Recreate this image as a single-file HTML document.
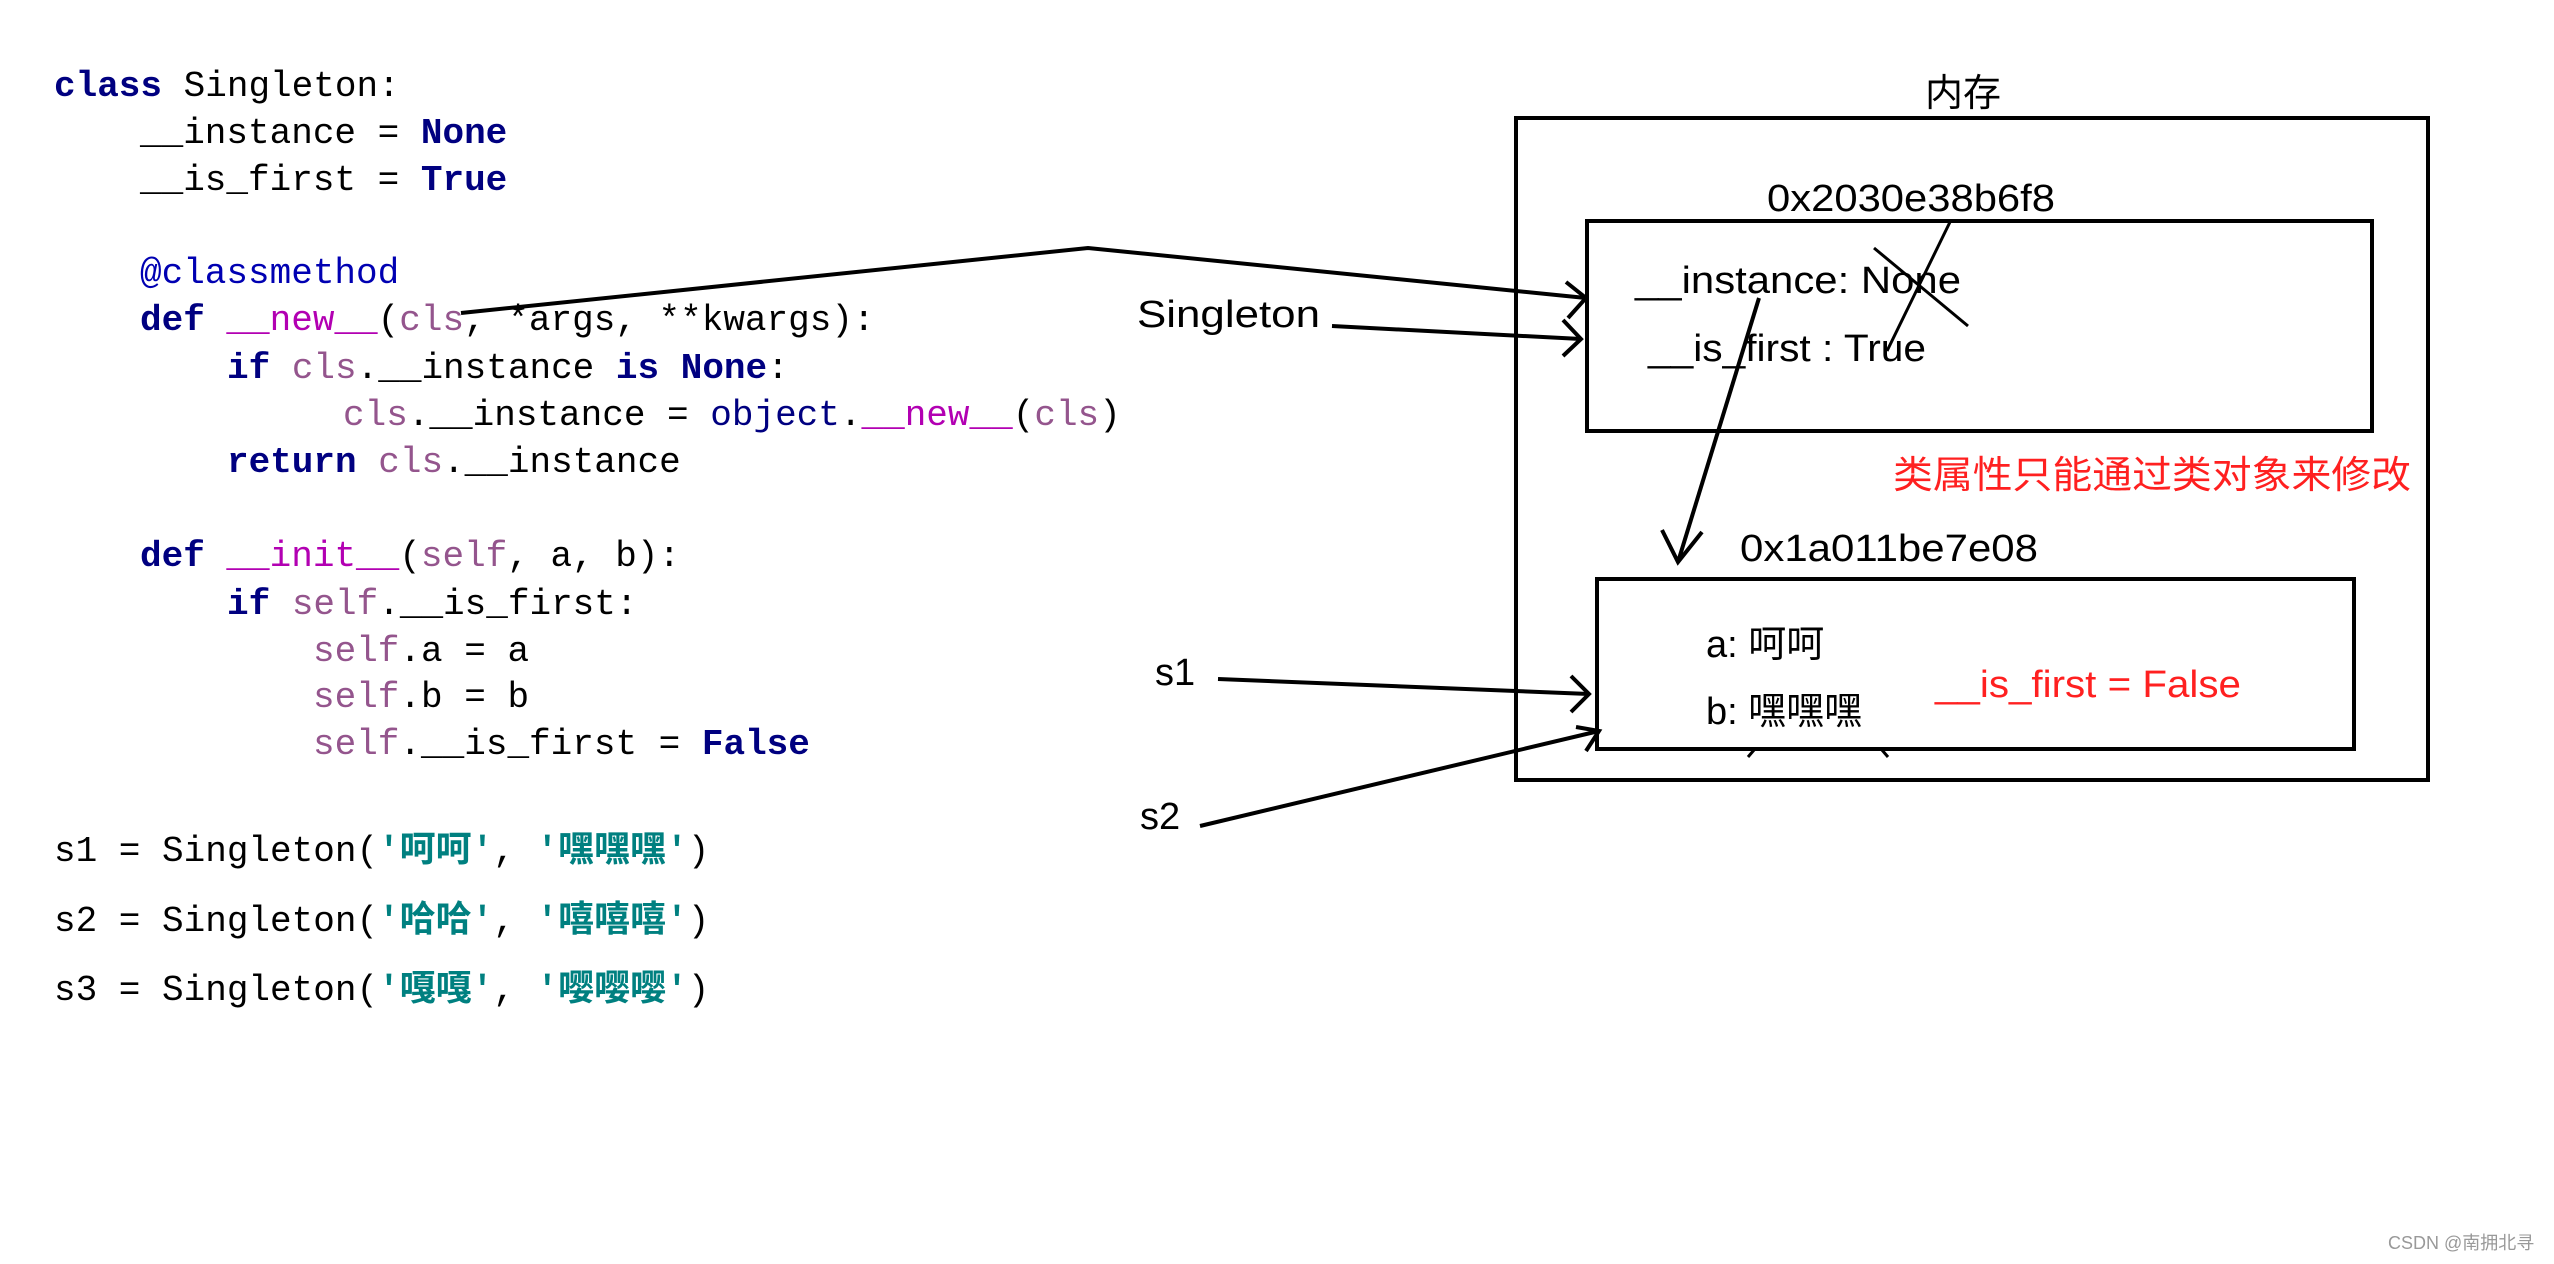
<!DOCTYPE html>
<html><head><meta charset="utf-8"><style>
html,body{margin:0;padding:0;background:#fff;}
svg{display:block;}
.c{font-family:"Liberation Mono","Noto Sans CJK SC",monospace;font-size:36px;fill:#000;white-space:pre;}
.k{fill:#000080;font-weight:bold;}
.p{fill:#94558D;}
.m{fill:#B200B2;}
.b{fill:#0000B2;}
.s{fill:#008080;font-weight:bold;}
.d{font-family:"Liberation Sans","Noto Sans CJK SC",sans-serif;font-size:38px;fill:#000;}
.r{fill:#ff2020;}
</style></head><body>
<svg width="2554" height="1264" viewBox="0 0 2554 1264" xmlns="http://www.w3.org/2000/svg">
<g class="c">
<text x="54" y="96"><tspan class="k">class</tspan> Singleton:</text>
<text x="140" y="143">__instance = <tspan class="k">None</tspan></text>
<text x="140" y="190">__is_first = <tspan class="k">True</tspan></text>
<text x="140" y="283"><tspan class="b">@classmethod</tspan></text>
<text x="140" y="330"><tspan class="k">def</tspan> <tspan class="m">__new__</tspan>(<tspan class="p">cls</tspan>, *args, **kwargs):</text>
<text x="227" y="378"><tspan class="k">if</tspan> <tspan class="p">cls</tspan>.__instance <tspan class="k">is</tspan> <tspan class="k">None</tspan>:</text>
<text x="343" y="425"><tspan class="p">cls</tspan>.__instance = <tspan class="k" style="font-weight:normal">object</tspan>.<tspan class="m">__new__</tspan>(<tspan class="p">cls</tspan>)</text>
<text x="227" y="472"><tspan class="k">return</tspan> <tspan class="p">cls</tspan>.__instance</text>
<text x="140" y="566"><tspan class="k">def</tspan> <tspan class="m">__init__</tspan>(<tspan class="p">self</tspan>, a, b):</text>
<text x="227" y="614"><tspan class="k">if</tspan> <tspan class="p">self</tspan>.__is_first:</text>
<text x="313" y="661"><tspan class="p">self</tspan>.a = a</text>
<text x="313" y="707"><tspan class="p">self</tspan>.b = b</text>
<text x="313" y="754"><tspan class="p">self</tspan>.__is_first = <tspan class="k">False</tspan></text>
<text x="54" y="861">s1 = Singleton(<tspan class="s">'呵呵'</tspan>, <tspan class="s">'嘿嘿嘿'</tspan>)</text>
<text x="54" y="931">s2 = Singleton(<tspan class="s">'哈哈'</tspan>, <tspan class="s">'嘻嘻嘻'</tspan>)</text>
<text x="54" y="1000">s3 = Singleton(<tspan class="s">'嘎嘎'</tspan>, <tspan class="s">'嘤嘤嘤'</tspan>)</text>
</g>
<g fill="none" stroke="#000" stroke-width="4">
<rect x="1516" y="118" width="912" height="662"/>
<rect x="1587" y="221" width="785" height="210"/>
<rect x="1597" y="579" width="757" height="170"/>
<polyline points="461,313 1088,248 1586,298"/>
<polyline points="1566,282 1586,298 1568,318"/>
<line x1="1332" y1="326" x2="1581" y2="339"/>
<polyline points="1563,320 1581,339 1563,356"/>
<line x1="1759" y1="298" x2="1678" y2="562"/>
<polyline points="1662,530 1678,562 1702,532"/>
<line x1="1218" y1="679" x2="1589" y2="694"/>
<polyline points="1571,676 1589,694 1571,712"/>
<line x1="1200" y1="826" x2="1599" y2="731"/>
<polyline points="1576,727 1599,731 1586,751"/>
<line x1="1874" y1="248" x2="1968" y2="326" stroke-width="3"/>
<line x1="1950" y1="222" x2="1887" y2="351" stroke-width="3"/>
<line x1="1748" y1="757" x2="1754" y2="750" stroke-width="3"/>
<line x1="1882" y1="750" x2="1888" y2="757" stroke-width="3"/>
</g>
<g class="d">
<text x="1963" y="106" text-anchor="middle">内存</text>
<text x="1767" y="211" textLength="288" lengthAdjust="spacingAndGlyphs">0x2030e38b6f8</text>
<text x="1635" y="293" textLength="326" lengthAdjust="spacingAndGlyphs">__instance: None</text>
<text x="1648" y="361" textLength="278" lengthAdjust="spacingAndGlyphs">__is_first : True</text>
<text x="1893" y="488" class="r" textLength="518" lengthAdjust="spacingAndGlyphs">类属性只能通过类对象来修改</text>
<text x="1740" y="561" textLength="298" lengthAdjust="spacingAndGlyphs">0x1a011be7e08</text>
<text x="1706" y="657">a:  呵呵</text>
<text x="1706" y="724">b:  嘿嘿嘿</text>
<text x="1935" y="697" class="r" textLength="306" lengthAdjust="spacingAndGlyphs">__is_first = False</text>
<text x="1137" y="327" textLength="183" lengthAdjust="spacingAndGlyphs">Singleton</text>
<text x="1155" y="685">s1</text>
<text x="1140" y="829">s2</text>
</g>
<text x="2388" y="1249" style="font-family:'Liberation Sans','Noto Sans CJK SC',sans-serif;font-size:18px;fill:#999">CSDN @南拥北寻</text>
</svg>
</body></html>
